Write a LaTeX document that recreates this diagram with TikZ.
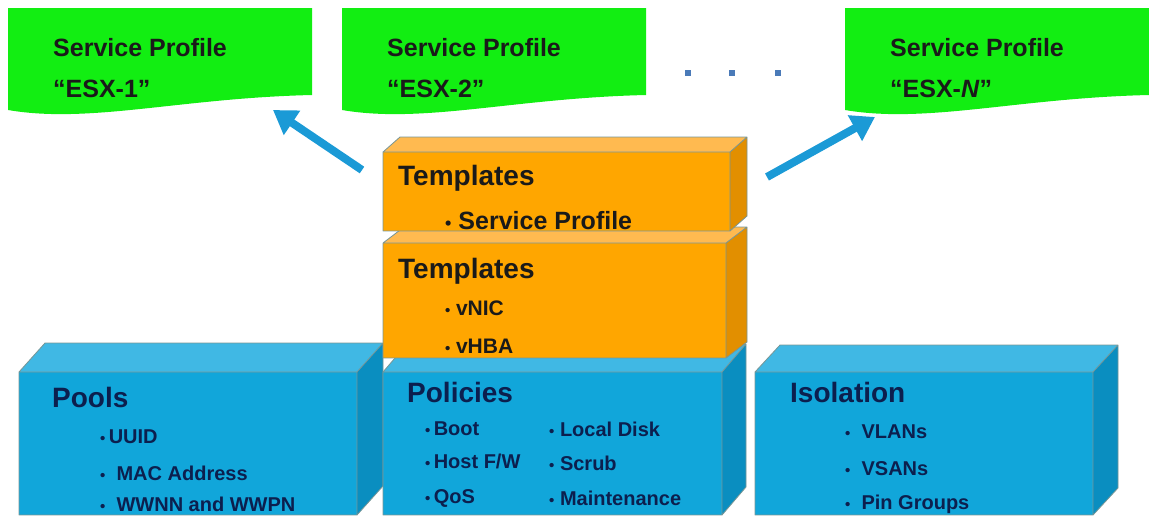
\documentclass[tikz,border=0pt]{standalone}
\usepackage{fontspec}
\setmainfont{Liberation Sans}
\usetikzlibrary{arrows.meta}
\definecolor{gfill}{RGB}{18,238,18}
\definecolor{bfront}{RGB}{17,166,218}
\definecolor{btop}{RGB}{64,184,228}
\definecolor{bside}{RGB}{10,142,192}
\definecolor{ofront}{RGB}{255,166,0}
\definecolor{otop}{RGB}{255,186,80}
\definecolor{oside}{RGB}{226,143,0}
\definecolor{arrowblue}{RGB}{27,154,214}
\definecolor{dotblue}{RGB}{74,122,184}
\definecolor{navy}{RGB}{12,31,78}
\definecolor{darktxt}{RGB}{26,26,26}
\definecolor{edgecol}{RGB}{120,150,150}
\newcommand\boxthreed[9]{%
  \fill[#7] (#1,#2) rectangle (#3,#4);
  \fill[#8] (#1,#2) -- ({#1+#5},{#2+#6}) -- ({#3+#5},{#2+#6}) -- (#3,#2) -- cycle;
  \fill[#9] (#3,#2) -- ({#3+#5},{#2+#6}) -- ({#3+#5},{#4+#6}) -- (#3,#4) -- cycle;
  \draw[edgecol, line width=0.8pt, line join=round] (#1,#2) rectangle (#3,#4)
     (#1,#2) -- ({#1+#5},{#2+#6}) -- ({#3+#5},{#2+#6}) -- (#3,#2)
     ({#3+#5},{#2+#6}) -- ({#3+#5},{#4+#6}) -- (#3,#4);
}
\newcommand\docshape[1]{%
  \fill[gfill] (#1,8) -- ({#1+304},8) -- ({#1+304},95)
     .. controls ({#1+172},98) and ({#1+82},124) .. (#1,110) -- cycle;
}
\newcommand\smallbul{{\fontsize{15}{20}\selectfont•}}
\begin{document}
\begin{tikzpicture}[x=1pt,y=-1pt,
  sptxt/.style={anchor=base west, inner sep=0pt, text=darktxt, font=\fontsize{25}{27}\selectfont\bfseries},
  titletxt/.style={anchor=base west, inner sep=0pt, font=\fontsize{28}{30}\selectfont\bfseries},
  itemtxt/.style={anchor=base west, inner sep=0pt, font=\fontsize{20}{22}\selectfont\bfseries},
  arrowstyle/.style={arrowblue, line width=8pt, -{Triangle[width=28pt,length=23pt]}},
  dotbox/.style={fill=dotblue, minimum size=6pt, inner sep=0pt}
]
\useasboundingbox (0,0) rectangle (1149,515);
% service profile documents
\docshape{8}
\docshape{342}
\docshape{845}
\node[sptxt] (sp1a) at (53,56) {Service Profile};
\node[sptxt] (sp1b) at (53,97) {“ESX-1”};
\node[sptxt] (sp2a) at (387,56) {Service Profile};
\node[sptxt] (sp2b) at (387,97) {“ESX-2”};
\node[sptxt] (spna) at (890,56) {Service Profile};
\node[sptxt] (spnb) at (890,97) {“ESX-\textit{N}”};
% dots
\node[dotbox] (d1) at (688,73) {};
\node[dotbox] (d2) at (732,73) {};
\node[dotbox] (d3) at (778,73) {};
% blue boxes
\boxthreed{19}{372}{357}{515}{26}{-29}{bfront}{btop}{bside}
\boxthreed{383}{372}{722}{515}{24}{-28}{bfront}{btop}{bside}
\boxthreed{755}{372}{1093}{515}{25}{-27}{bfront}{btop}{bside}
% orange boxes
\boxthreed{383}{243}{726}{358}{21}{-16}{ofront}{otop}{oside}
\boxthreed{383}{152}{730}{231}{17}{-15}{ofront}{otop}{oside}
% template texts
\node[titletxt, text=darktxt] (t1) at (398,185) {Templates};
\node[sptxt] (t1a) at (445,229) {{\fontsize{18}{20}\selectfont•}\ Service Profile};
\node[titletxt, text=darktxt] (t2) at (398,278) {Templates};
\node[itemtxt, text=darktxt] (t2a) at (445,315) {\smallbul\ \fontsize{21}{22}\selectfont vNIC};
\node[itemtxt, text=darktxt] (t2b) at (445,353) {\smallbul\ \fontsize{21}{22}\selectfont vHBA};
% pools
\node[titletxt, text=navy] (p0) at (52,407) {Pools};
\node[itemtxt, text=navy] (p1) at (100,443) {\smallbul\,UUID};
\node[itemtxt, text=navy] (p2) at (100,480) {\smallbul\ \ MAC Address};
\node[itemtxt, text=navy] (p3) at (100,511) {\smallbul\ \ WWNN and WWPN};
% policies
\node[titletxt, text=navy] (q0) at (407,402) {Policies};
\node[itemtxt, text=navy] (q1) at (425,435) {\smallbul\,Boot};
\node[itemtxt, text=navy] (q2) at (425,468) {\smallbul\,Host F/W};
\node[itemtxt, text=navy] (q3) at (425,503) {\smallbul\,QoS};
\node[itemtxt, text=navy] (q4) at (549,436) {\smallbul\ Local Disk};
\node[itemtxt, text=navy] (q5) at (549,470) {\smallbul\ Scrub};
\node[itemtxt, text=navy] (q6) at (549,505) {\smallbul\ Maintenance};
% isolation
\node[titletxt, text=navy] (i0) at (790,402) {Isolation};
\node[itemtxt, text=navy] (i1) at (845,438) {\smallbul\ \ VLANs};
\node[itemtxt, text=navy] (i2) at (845,475) {\smallbul\ \ VSANs};
\node[itemtxt, text=navy] (i3) at (845,509) {\smallbul\ \ Pin Groups};
% arrows
\coordinate (la) at (362,170);
\coordinate (lb) at (273,110);
\coordinate (ra) at (767,177);
\coordinate (rb) at (875,117);
\draw[arrowstyle] (la) -- (lb);
\draw[arrowstyle] (ra) -- (rb);
\end{tikzpicture}
\end{document}
